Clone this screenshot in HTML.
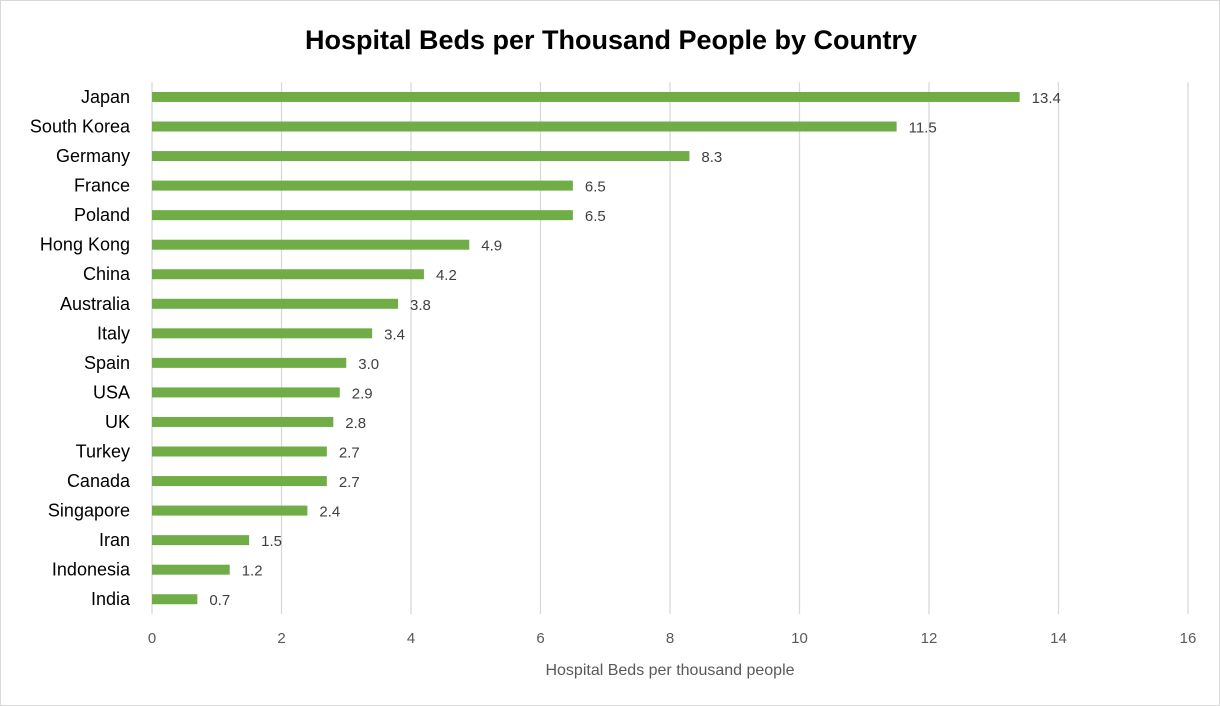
<!DOCTYPE html>
<html><head><meta charset="utf-8"><style>
html,body{margin:0;padding:0;background:#fff;}
svg{display:block;font-family:"Liberation Sans",sans-serif;}
</style></head><body>
<svg id="chart" width="1220" height="706" viewBox="0 0 1220 706">
<rect x="0.5" y="0.5" width="1219" height="705" fill="#fff" stroke="#d9d9d9"/>
<text x="611" y="49" text-anchor="middle" font-size="27" font-weight="bold" fill="#000">Hospital Beds per Thousand People by Country</text>
<g id="grid"></g><g id="bars"></g><g id="labels"></g>
<text x="670" y="675" text-anchor="middle" font-size="16" fill="#595959">Hospital Beds per thousand people</text>
</svg>
<script>
const categories=["Japan","South Korea","Germany","France","Poland","Hong Kong","China","Australia","Italy","Spain","USA","UK","Turkey","Canada","Singapore","Iran","Indonesia","India"];
const values=[13.4,11.5,8.3,6.5,6.5,4.9,4.2,3.8,3.4,3.0,2.9,2.8,2.7,2.7,2.4,1.5,1.2,0.7];
const valueLabels=["13.4","11.5","8.3","6.5","6.5","4.9","4.2","3.8","3.4","3.0","2.9","2.8","2.7","2.7","2.4","1.5","1.2","0.7"];
const ticks=[0,2,4,6,8,10,12,14,16];
const ns="http://www.w3.org/2000/svg";
const x0=152,x1=1188,yTop=82.2,yBottom=614,xMax=16;
const band=(yBottom-yTop)/categories.length;
const xs=v=>x0+(x1-x0)*v/xMax;
const yc=i=>yTop+band*(i+0.5);
function mk(t,a,p){const e=document.createElementNS(ns,t);for(const k in a)e.setAttribute(k,a[k]);p.appendChild(e);return e;}
const g=document.getElementById('grid'),b=document.getElementById('bars'),l=document.getElementById('labels');
ticks.forEach(t=>{
 const ln=mk('line',{x1:xs(t),x2:xs(t),y1:yTop,y2:yBottom,stroke:'#d9d9d9','stroke-width':1.3},g);
 
 
 const tx=mk('text',{x:xs(t),y:643,'text-anchor':'middle','font-size':15,fill:'#595959'},g);
 tx.textContent=t;
 
 
});
categories.forEach((c,i)=>{
 const y=yc(i);
 const r=mk('rect',{x:x0,y:y-5,width:xs(values[i])-x0,height:10,fill:'#70ad47'},b);
 
 
 const cl=mk('text',{x:130,y:y+6,'text-anchor':'end','font-size':18,fill:'#000'},l);
 cl.textContent=c;
 
 
 const vl=mk('text',{x:xs(values[i])+12,y:y+6,'font-size':15,fill:'#404040'},l);
 vl.textContent=valueLabels[i];
 
 
});
</script>
</body></html>
